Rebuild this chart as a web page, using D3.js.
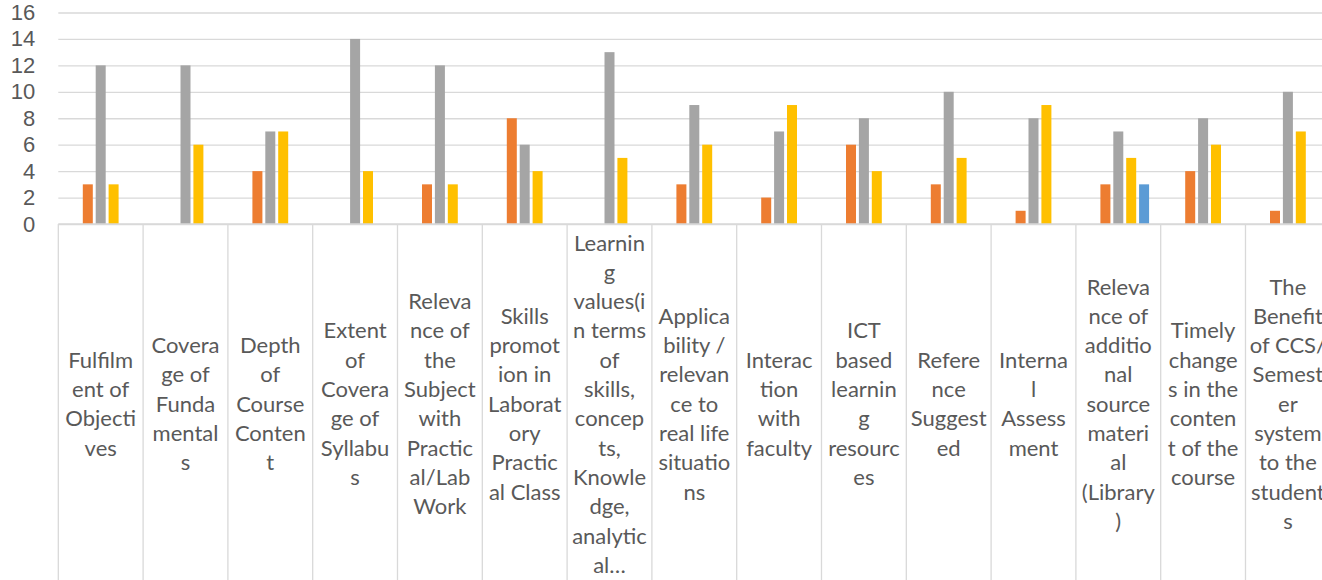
<!DOCTYPE html>
<html>
  <head>
    <meta charset="utf-8">
    <script src="https://cdn.jsdelivr.net/npm/d3@7"></script>
    <style>
      html, body {
        margin: 0;
        padding: 0;
        background: #ffffff;
        overflow: hidden;
      }
      svg {
        display: block;
        font-family: 'Lato', 'Liberation Sans', sans-serif;
      }
      .ytick text {
        font-size: 22px;
        fill: #595959;
      }
      .cat-label {
        font-size: 22px;
        fill: #595959;
      }
    </style>
  </head>
  <body>
    <svg id="chart" width="1322" height="580"></svg>
    <script>
      // category labels, wrapped the way the chart wraps them
      const categories = [
        ["Fulfilm", "ent of", "Objecti", "ves"],
        ["Covera", "ge of", "Funda", "mental", "s"],
        ["Depth", "of", "Course", "Conten", "t"],
        ["Extent", "of", "Covera", "ge of", "Syllabu", "s"],
        ["Releva", "nce of", "the", "Subject", "with", "Practic", "al/Lab", "Work"],
        ["Skills", "promot", "ion in", "Laborat", "ory", "Practic", "al Class"],
        ["Learnin", "g", "values(i", "n terms", "of", "skills,", "concep", "ts,", "Knowle", "dge,", "analytic", "al…"],
        ["Applica", "bility /", "relevan", "ce to", "real life", "situatio", "ns"],
        ["Interac", "tion", "with", "faculty"],
        ["ICT", "based", "learnin", "g", "resourc", "es"],
        ["Refere", "nce", "Suggest", "ed"],
        ["Interna", "l", "Assess", "ment"],
        ["Releva", "nce of", "additio", "nal", "source", "materi", "al", "(Library", ")"],
        ["Timely", "change", "s in the", "conten", "t of the", "course"],
        ["The", "Benefit", "of CCS/", "Semest", "er", "system", "to the", "student", "s"]
      ];

      const seriesNames = ["Series1", "Series2", "Series3", "Series4", "Series5"];
      const seriesColors = ["#4472C4", "#ED7D31", "#A5A5A5", "#FFC000", "#5B9BD5"];

      const series1 = [0, 0, 0, 0, 0, 0, 0, 0, 0, 0, 0, 0, 0, 0, 0];
      const series2 = [3, 0, 4, 0, 3, 8, 0, 3, 2, 6, 3, 1, 3, 4, 1];
      const series3 = [12, 12, 7, 14, 12, 6, 13, 9, 7, 8, 10, 8, 7, 8, 10];
      const series4 = [3, 6, 7, 4, 3, 4, 5, 6, 9, 4, 5, 9, 5, 6, 7];
      const series5 = [0, 0, 0, 0, 0, 0, 0, 0, 0, 0, 0, 0, 3, 0, 0];

      const yTicks = [0, 2, 4, 6, 8, 10, 12, 14, 16];

      const allSeries = [series1, series2, series3, series4, series5];

      const svg = d3.select("#chart");
      const plotLeft = 58.3, plotRight = 1330.3, plotTop = 12.5, baseY = 224, plotBottom = 580;

      const catKeys = categories.map((c, i) => i);
      const x = d3.scaleBand().domain(catKeys).range([plotLeft, plotRight]);
      const xs = d3.scaleBand().domain(seriesNames)
        .range([0, x.bandwidth()])
        .paddingInner(0.225)
        .paddingOuter(0.9);
      const y = d3.scaleLinear().domain([0, 16]).range([baseY, plotTop]);

      // gridlines + tick labels
      const yAxis = svg.append("g")
        .attr("class", "ytick")
        .attr("transform", `translate(${plotLeft},0)`)
        .call(d3.axisLeft(y).tickValues(yTicks).tickSize(-(plotRight - plotLeft)).tickPadding(23));
      yAxis.select(".domain").remove();
      yAxis.selectAll("line")
        .attr("stroke", "#D9D9D9")
        .attr("stroke-width", 1.3);
      yAxis.selectAll("text").attr("font-family", null).attr("font-size", null);

      // bars
      const table = [];
      categories.forEach((c, i) => {
        allSeries.forEach((s, j) => {
          table.push({ cat: i, name: seriesNames[j], color: seriesColors[j], value: s[i] });
        });
      });

      svg.append("g")
        .selectAll("rect")
        .data(table.filter(d => d.value > 0))
        .join("rect")
        .attr("x", d => x(d.cat) + xs(d.name))
        .attr("width", xs.bandwidth())
        .attr("y", d => y(d.value))
        .attr("height", d => y(0) - y(d.value))
        .attr("fill", d => d.color);

      // category axis line and separators
      svg.append("line")
        .attr("x1", plotLeft).attr("x2", plotRight)
        .attr("y1", baseY).attr("y2", baseY)
        .attr("stroke", "#D9D9D9")
        .attr("stroke-width", 1.5);

      const seps = catKeys.map(k => x(k)).concat([plotRight]);
      svg.append("g")
        .selectAll("line")
        .data(seps)
        .join("line")
        .attr("x1", d => d).attr("x2", d => d)
        .attr("y1", baseY).attr("y2", plotBottom)
        .attr("stroke", "#D9D9D9")
        .attr("stroke-width", 1.3);

      // category labels
      const lineH = 29.3, midY = 404;
      const labels = svg.append("g")
        .selectAll("text")
        .data(categories)
        .join("text")
        .attr("class", "cat-label")
        .attr("text-anchor", "middle")
        .attr("x", (d, i) => x(i) + x.bandwidth() / 2);

      labels.each(function(lines) {
        const t = d3.select(this);
        const y0 = midY - (lines.length - 1) / 2 * lineH;
        lines.forEach((ln, k) => {
          t.append("tspan")
            .attr("x", t.attr("x"))
            .attr("y", y0 + k * lineH)
            .attr("dy", "0.35em")
            .text(ln);
        });
      });
    </script>
  </body>
</html>
